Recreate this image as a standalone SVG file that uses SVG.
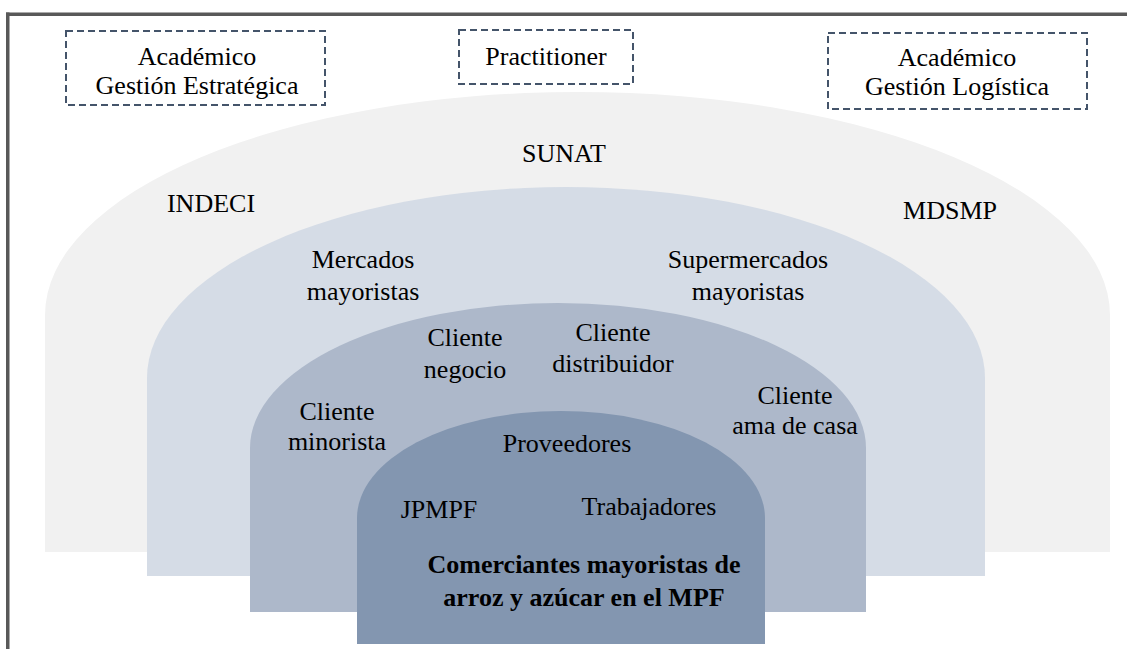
<svg xmlns="http://www.w3.org/2000/svg" width="1127" height="649" viewBox="0 0 1127 649">
<style>
text{font-size:26px;fill:#000;text-anchor:middle}
.b{font-weight:bold}
.box{fill:none;stroke:#44546a;stroke-width:2;stroke-dasharray:7 4}
.frame{fill:#595959}
</style>
<rect width="1127" height="649" fill="#fff"/>
<g id="frame">
<rect class="frame" x="6" y="12.5" width="1121" height="3.5"/>
<rect class="frame" x="6" y="12.5" width="3.5" height="637"/>
</g>
<g font-family="Liberation Serif, Times New Roman, serif">
<g id="ring-outer">
<path d="M45,552 L45,315 A532.5,223 0 0 1 1110,315 L1110,552 Z" fill="#f1f1f1"/>
<text x="564" y="162">SUNAT</text>
<text x="211" y="212">INDECI</text>
<text x="950" y="219">MDSMP</text>
</g>
<g id="ring-second">
<path d="M147,576 L147,378 A419,191 0 0 1 985,378 L985,576 Z" fill="#d5dce6"/>
<text x="363" y="268">Mercados</text>
<text x="363" y="300">mayoristas</text>
<text x="748" y="268">Supermercados</text>
<text x="748" y="300">mayoristas</text>
</g>
<g id="ring-third">
<path d="M250,612 L250,448 A308,145 0 0 1 866,448 L866,612 Z" fill="#adb8ca"/>
<text x="465" y="346">Cliente</text>
<text x="465" y="378">negocio</text>
<text x="613" y="341">Cliente</text>
<text x="613" y="372">distribuidor</text>
<text x="337" y="420">Cliente</text>
<text x="337" y="450">minorista</text>
<text x="795" y="404">Cliente</text>
<text x="795" y="434">ama de casa</text>
</g>
<g id="ring-inner">
<path d="M357,644 L357,518 A204,107 0 0 1 765,518 L765,644 Z" fill="#8396b0"/>
<text x="567" y="452">Proveedores</text>
<text x="439" y="518">JPMPF</text>
<text x="649" y="515">Trabajadores</text>
<text class="b" x="584" y="573">Comerciantes mayoristas de</text>
<text class="b" x="584" y="606">arroz y azúcar en el MPF</text>
</g>
<g id="box-estrategica">
<rect class="box" x="66" y="31" width="259" height="74"/>
<text x="197" y="65">Académico</text>
<text x="197" y="94">Gestión Estratégica</text>
</g>
<g id="box-practitioner">
<rect class="box" x="459" y="30" width="174" height="54"/>
<text x="546" y="65">Practitioner</text>
</g>
<g id="box-logistica">
<rect class="box" x="828" y="33" width="259" height="76"/>
<text x="957" y="66">Académico</text>
<text x="957" y="95">Gestión Logística</text>
</g>
</g>
<g id="connectors"></g>
</svg>
